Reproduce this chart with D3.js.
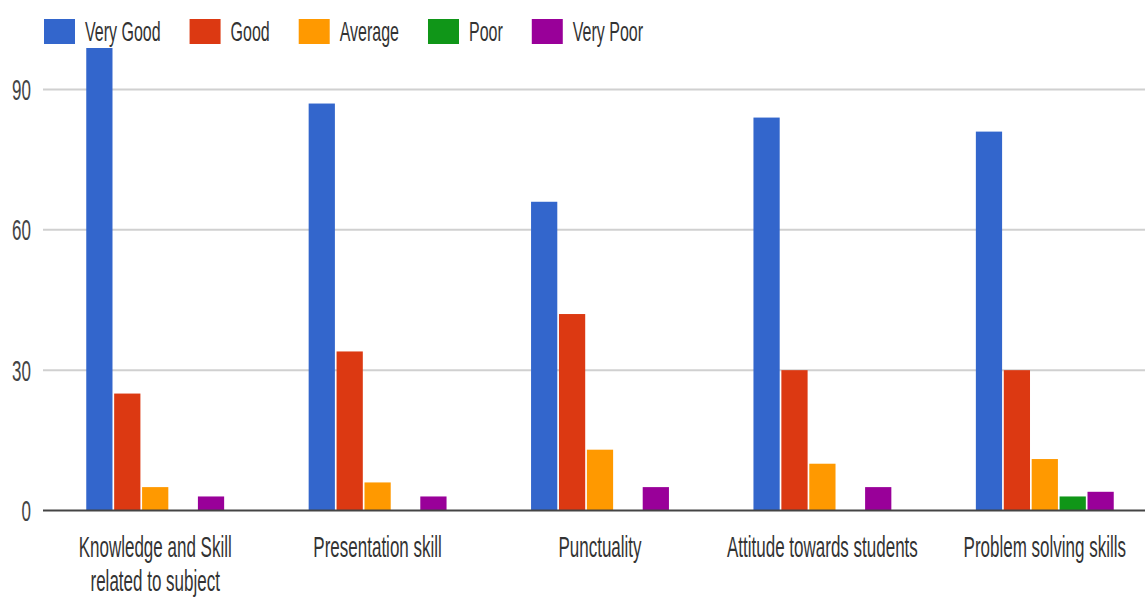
<!DOCTYPE html>
<html>
<head>
<meta charset="utf-8">
<script src="https://cdn.jsdelivr.net/npm/d3@7"></script>
<style>
  html, body { margin: 0; padding: 0; background: #fff; }
  svg { display: block; font-family: Arial, "Liberation Sans", sans-serif; }
</style>
</head>
<body>
<svg id="chart" width="1145" height="607"></svg>
<script>
// Survey ratings per teaching aspect
const categories = [
  "Knowledge and Skill related to subject",
  "Presentation skill",
  "Punctuality",
  "Attitude towards students",
  "Problem solving skills"
];
const seriesNames = ["Very Good", "Good", "Average", "Poor", "Very Poor"];
const seriesColors = ["#3366cc", "#dc3912", "#ff9900", "#109618", "#990099"];
const veryGood = [99, 87, 66, 84, 81];
const good = [25, 34, 42, 30, 30];
const average = [5, 6, 13, 10, 11];
const poor = [0, 0, 0, 0, 3];
const veryPoor = [3, 3, 5, 5, 4];
const yTicks = [0, 30, 60, 90];

const seriesValues = [veryGood, good, average, poor, veryPoor];

const svg = d3.select("#chart");
const textScaleY = 1.72;   // tall, narrow lettering
const left = 44, plotRight = 1156, plotTop = 48;

const x0 = d3.scaleBand()
  .domain(categories)
  .range([left, plotRight])
  .paddingInner(0.38)
  .paddingOuter(0.19);

const x1 = d3.scaleBand()
  .domain(seriesNames)
  .range([0, x0.bandwidth()])
  .paddingInner(0.06);

const y = d3.scaleLinear().domain([0, 90]).range([510.5, 89.5]);

// clip for bars that run past the top of the plot area
svg.append("defs").append("clipPath").attr("id", "plotClip")
  .append("rect").attr("x", 0).attr("y", plotTop).attr("width", 1200).attr("height", 600);

// gridlines
svg.append("g").selectAll("line")
  .data(yTicks.filter(d => d !== 0))
  .join("line")
  .attr("x1", left - 1).attr("x2", 1145)
  .attr("y1", d => y(d)).attr("y2", d => y(d))
  .attr("stroke", "#d0d0d0").attr("stroke-width", 2);

// tick labels
svg.append("g").selectAll("text")
  .data(yTicks)
  .join("text")
  .attr("transform", d => `translate(31,${y(d)}) scale(1,${textScaleY})`)
  .attr("text-anchor", "end")
  .attr("dy", "0.36em")
  .attr("font-size", 17)
  .attr("fill", "#444")
  .text(d => d);

// bars
const groups = svg.append("g").attr("clip-path", "url(#plotClip)")
  .selectAll("g")
  .data(categories)
  .join("g")
  .attr("transform", d => `translate(${x0(d)},0)`);

groups.selectAll("rect")
  .data((c, ci) => seriesNames.map((s, si) => ({ s, si, v: seriesValues[si][ci] })))
  .join("rect")
  .filter(d => d.v > 0)
  .attr("x", d => x1(d.s))
  .attr("width", x1.bandwidth())
  .attr("y", d => y(d.v))
  .attr("height", d => y(0) - y(d.v))
  .attr("fill", d => seriesColors[d.si]);

// baseline
svg.append("line")
  .attr("x1", left - 1).attr("x2", 1145)
  .attr("y1", y(0)).attr("y2", y(0))
  .attr("stroke", "#444").attr("stroke-width", 2);

// category labels, wrapped to a maximum width
const labelSize = 17;
const maxLabelWidth = 200;
const labelG = svg.append("g").selectAll("g")
  .data(categories)
  .join("g")
  .attr("transform", d => `translate(${x0(d) + x0.bandwidth() / 2},557) scale(1,${textScaleY})`);

labelG.each(function(d) {
  const g = d3.select(this);
  const words = d.split(" ");
  const lines = [];
  let line = [];
  const probe = g.append("text").attr("font-size", labelSize);
  words.forEach(w => {
    const trial = line.concat(w).join(" ");
    probe.text(trial);
    if (probe.node().getComputedTextLength() > maxLabelWidth && line.length) {
      lines.push(line.join(" "));
      line = [w];
    } else {
      line.push(w);
    }
  });
  lines.push(line.join(" "));
  probe.remove();
  g.selectAll("text")
    .data(lines)
    .join("text")
    .attr("text-anchor", "middle")
    .attr("font-size", labelSize)
    .attr("fill", "#333")
    .attr("y", (l, i) => i * 34 / textScaleY)
    .text(l => l);
});

// legend
const legend = svg.append("g");
let lx = 44;
seriesNames.forEach((name, i) => {
  const item = legend.append("g").attr("transform", `translate(${lx},0)`);
  item.append("rect")
    .attr("x", 0).attr("y", 19).attr("width", 31).attr("height", 25)
    .attr("fill", seriesColors[i]);
  const t = item.append("text")
    .attr("transform", `translate(41,31) scale(1,${textScaleY})`)
    .attr("dy", "0.36em")
    .attr("font-size", 16)
    .attr("fill", "#333")
    .text(name);
  lx += 41 + t.node().getComputedTextLength() + 29;
});
</script>
</body>
</html>
